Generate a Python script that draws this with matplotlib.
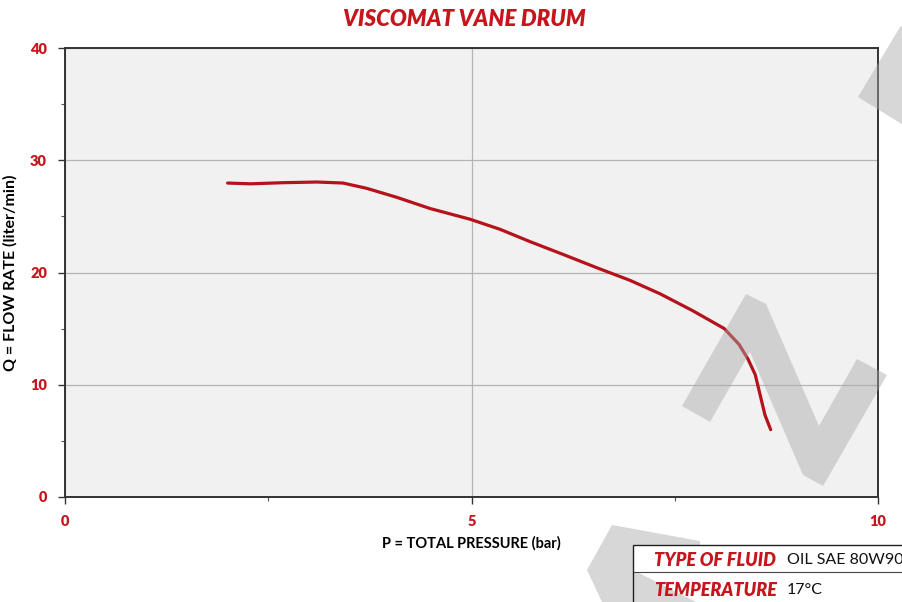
import matplotlib
matplotlib.use("Agg")
import matplotlib.pyplot as plt
from matplotlib.patches import Polygon, Rectangle

# curve (pressure in bar, flow in l/min)
pressure = [2.0, 2.28, 2.68, 3.1, 3.42, 3.71, 4.08, 4.49, 4.98, 5.35, 5.72,
            6.13, 6.55, 6.95, 7.32, 7.72, 8.11, 8.29, 8.40, 8.49, 8.55, 8.61, 8.68]
flow = [27.97, 27.9, 28.0, 28.06, 27.97, 27.5, 26.7, 25.7, 24.75, 23.85, 22.75,
        21.6, 20.4, 19.3, 18.1, 16.6, 15.0, 13.6, 12.3, 10.9, 9.1, 7.3, 6.0]

x_ticks = [0, 5, 10]
y_ticks = [0, 10, 20, 30, 40]
fluid_info = [("TYPE OF FLUID", "OIL SAE 80W90"), ("TEMPERATURE", "17\u00b0C")]

RED = "#c4161c"
W, H = 903, 602

fig = plt.figure(figsize=(9.03, 6.02), dpi=100)
fig.patch.set_facecolor("white")
ax = fig.add_axes([65 / W, 1 - 497 / H, (878 - 65) / W, (497 - 48) / H])
ax.set_facecolor("#f1f1f1")

ax.set_xlim(0, 10)
ax.set_ylim(0, 40)
ax.set_xticks(x_ticks)
ax.set_yticks(y_ticks)
ax.set_xticks([2.5, 7.5], minor=True)
ax.set_yticks([5, 15, 25, 35], minor=True)
ax.grid(True, which="major", color="#b4b4b4", linewidth=0.9)
ax.set_axisbelow(True)
for s in ax.spines.values():
    s.set_color("#333333")
    s.set_linewidth(1.4)
ax.tick_params(which="major", length=5, width=1, color="#333333",
               labelcolor=RED, labelsize=10.5)
ax.tick_params(which="minor", length=3, width=0.8, color="#555555")
ax.tick_params(axis="x", pad=8)
ax.tick_params(axis="y", pad=8)
for lab in ax.get_xticklabels() + ax.get_yticklabels():
    lab.set_fontweight("heavy")
    lab.set_fontfamily("Lato")

ax.set_xlabel("P = TOTAL PRESSURE (bar)", fontsize=10.5, fontweight="bold",
              family="Lato", labelpad=6)
ax.set_ylabel("Q = FLOW RATE (liter/min)", fontsize=11.5, fontweight="bold",
              family="Lato")
ax.yaxis.set_label_coords(-(65 - 18) / (878 - 65), 0.5)

ax.plot(pressure, flow, color="#b5121b", linewidth=2.3, zorder=4,
        solid_capstyle="round", solid_joinstyle="round")

fig.text(464 / W, 1 - 19 / H, "VISCOMAT VANE DRUM", ha="center", va="center",
         color=RED, fontsize=16, fontweight="heavy", fontstyle="italic",
         family="Lato")


# decorative grey watermark strokes (pixel outline -> figure fraction)
def px(pts):
    return [(x / W, 1 - y / H) for x, y in pts]


shapes = [
    [(682, 406), (746, 294), (766, 304), (819, 426), (857, 359), (887, 375),
     (823, 486), (803, 475), (750, 352), (710, 422)],
    [(858, 97), (900, 27), (960, 0), (960, 160)],
    [(612, 525), (700, 541), (700, 602), (602, 602), (587, 570)],
]
for pts in shapes:
    fig.patches.append(Polygon(px(pts), closed=True, transform=fig.transFigure,
                               facecolor="#a8a8a8", alpha=0.45,
                               edgecolor="none", zorder=3))

# fluid info box
fig.patches.append(Rectangle((633 / W, 1 - 572 / H), 300 / W, 27 / H,
                             transform=fig.transFigure, facecolor="white",
                             edgecolor="none", zorder=5))
fig.patches.append(Polygon(px([(637, 572), (704, 572), (704, 606)]), closed=True,
                           transform=fig.transFigure, facecolor="white",
                           edgecolor="none", zorder=5))
fig.patches.append(Rectangle((633 / W, -0.01), 300 / W, (602 - 545) / H + 0.01,
                             transform=fig.transFigure, facecolor="none",
                             edgecolor="#222222", linewidth=1, zorder=6))
fig.add_artist(plt.Line2D([633 / W, 1], [1 - 572 / H, 1 - 572 / H],
                          transform=fig.transFigure, color="#444444",
                          linewidth=0.8, zorder=6))
for (key, val), yy in zip(fluid_info, [560, 590]):
    fig.text(654 / W, 1 - yy / H, key, ha="left", va="center", color=RED,
             fontsize=13, fontweight="heavy", fontstyle="italic",
             family="Lato", zorder=7)
    fig.text(787 / W, 1 - yy / H, val, ha="left", va="center", color="#111111",
             fontsize=11.5, family="Lato", zorder=7)

fig.savefig("out.png", dpi=100)
